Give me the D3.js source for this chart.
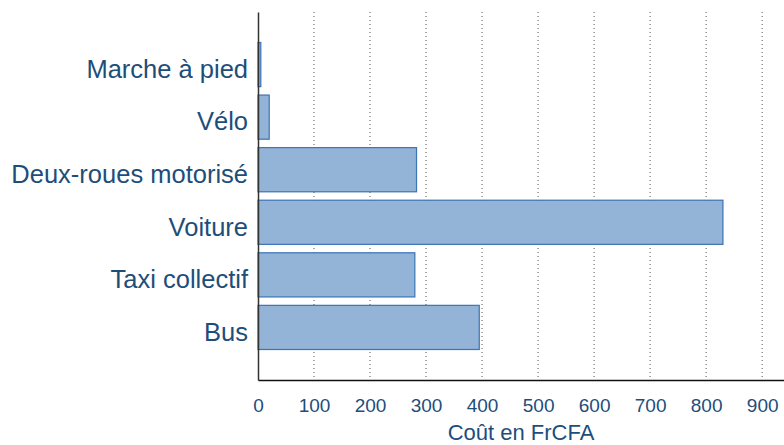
<!DOCTYPE html>
<html>
<head>
<meta charset="utf-8">
<script src="https://cdn.jsdelivr.net/npm/d3@7"></script>
<style>
  body { margin: 0; background: #fff; }
  svg { display: block; font-family: "Liberation Sans", Arial, sans-serif; }
</style>
</head>
<body>
<div id="chart"></div>
<script>
// data
const modes = ["Marche à pied", "Vélo", "Deux-roues motorisé", "Voiture", "Taxi collectif", "Bus"];
const costs = [5, 20, 283, 830, 280, 395];
const xTicks = [0, 100, 200, 300, 400, 500, 600, 700, 800, 900];

const FRAME_WIDTH = 784;
const FRAME_HEIGHT = 445;
const MARGINS = { left: 258, right: 0, top: 12, bottom: 65 };
const VIS_WIDTH = FRAME_WIDTH - MARGINS.left - MARGINS.right;
const VIS_HEIGHT = FRAME_HEIGHT - MARGINS.top - MARGINS.bottom;
const TEXT_COLOR = "#1d4e7a";

const FRAME = d3.select("#chart")
    .append("svg")
    .attr("width", FRAME_WIDTH)
    .attr("height", FRAME_HEIGHT);

const g = FRAME.append("g")
    .attr("transform", "translate(" + MARGINS.left + "," + MARGINS.top + ")");

const xScale = d3.scaleLinear()
    .domain([0, 939])
    .range([0, VIS_WIDTH]);

// one empty half-step above and below the bars
const yScale = d3.scalePoint()
    .domain(modes)
    .range([0, VIS_HEIGHT])
    .padding(1);
const step = yScale.step();
const barH = step * 0.84;

// dotted vertical grid
g.selectAll(".grid")
    .data(xTicks.filter(t => t > 0))
    .enter()
    .append("line")
    .attr("x1", d => xScale(d))
    .attr("x2", d => xScale(d))
    .attr("y1", 0)
    .attr("y2", VIS_HEIGHT)
    .attr("stroke", "#555")
    .attr("stroke-width", 1)
    .attr("stroke-dasharray", "1,3");

// bars
const data = modes.map((m, i) => ({ mode: m, cost: costs[i] }));
g.selectAll(".bar")
    .data(data)
    .enter()
    .append("rect")
    .attr("class", "bar")
    .attr("x", xScale(0))
    .attr("y", d => yScale(d.mode) - barH / 2)
    .attr("width", d => xScale(d.cost) - xScale(0))
    .attr("height", barH)
    .attr("fill", "#93b3d7")
    .attr("stroke", "#3a74b5")
    .attr("stroke-width", 1.2);

// x axis
const xAxis = g.append("g")
    .attr("transform", "translate(0," + VIS_HEIGHT + ")")
    .call(d3.axisBottom(xScale).tickValues(xTicks).tickSize(0).tickPadding(19).tickFormat(d3.format("d")));
xAxis.select(".domain").attr("stroke", "#111").attr("stroke-width", 1.5);
xAxis.selectAll("text")
    .attr("fill", TEXT_COLOR)
    .attr("font-size", "19px");

// y axis
const yAxis = g.append("g")
    .call(d3.axisLeft(yScale).tickSize(0).tickPadding(10));
yAxis.select(".domain").attr("stroke", "#333").attr("stroke-width", 1.5);
yAxis.selectAll("text")
    .attr("fill", TEXT_COLOR)
    .attr("font-size", "25.5px")
    .attr("dy", "0.5em");

// axis title
FRAME.append("text")
    .attr("x", MARGINS.left + VIS_WIDTH / 2)
    .attr("y", 440)
    .attr("text-anchor", "middle")
    .attr("fill", TEXT_COLOR)
    .attr("font-size", "22px")
    .text("Coût en FrCFA");
</script>
</body>
</html>
